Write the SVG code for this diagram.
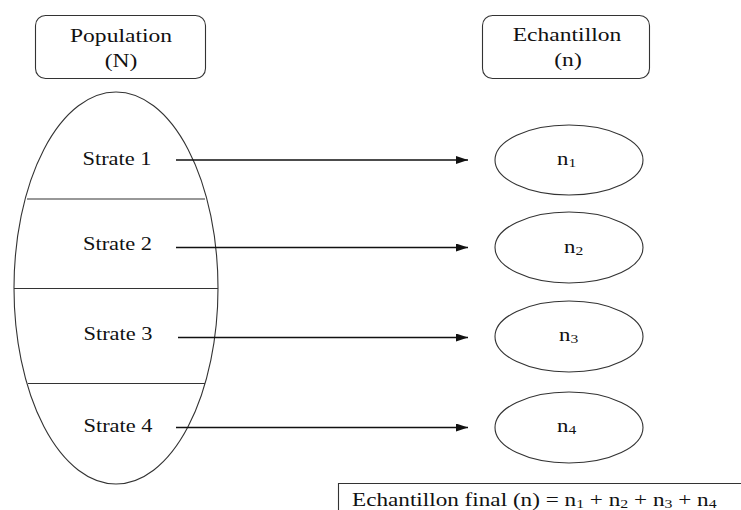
<svg xmlns="http://www.w3.org/2000/svg" width="741" height="510" viewBox="0 0 741 510">
<style>
.s{fill:none;stroke:#333;stroke-width:1.1}
.t{font-family:"Liberation Serif","Times New Roman",serif;font-size:19px;fill:#111}
.sub{font-size:13px}
.c{stroke:#111;stroke-width:1.4;fill:none}
</style>
<defs>
<marker id="ah" markerWidth="12" markerHeight="8" refX="12" refY="4" orient="auto" markerUnits="userSpaceOnUse">
<path d="M0,0 L12,4 L0,8 Z" fill="#111"/>
</marker>
</defs>
<rect width="741" height="510" fill="#fff"/>
<g id="population">
<rect class="s" x="35.5" y="15.5" width="170" height="63" rx="10"/>
<text class="t" text-anchor="middle" transform="translate(121,42) scale(1.24,1)">Population</text>
<text class="t" text-anchor="middle" transform="translate(121,67) scale(1.24,1)">(N)</text>
</g>
<g id="echantillon">
<rect class="s" x="482.5" y="15.5" width="167" height="63" rx="10"/>
<text class="t" text-anchor="middle" transform="translate(567,41) scale(1.24,1)">Echantillon</text>
<text class="t" text-anchor="middle" transform="translate(568,66) scale(1.24,1)">(n)</text>
</g>
<g id="strates">
<ellipse class="s" cx="116" cy="288" rx="102" ry="196"/>
<line class="s" x1="27" y1="199" x2="205" y2="199"/>
<line class="s" x1="14" y1="288.5" x2="218" y2="288.5"/>
<line class="s" x1="28" y1="383.5" x2="205" y2="383.5"/>
<text class="t" text-anchor="middle" transform="translate(117,165) scale(1.18,1)">Strate 1</text>
<text class="t" text-anchor="middle" transform="translate(117.5,250) scale(1.18,1)">Strate 2</text>
<text class="t" text-anchor="middle" transform="translate(118,340) scale(1.18,1)">Strate 3</text>
<text class="t" text-anchor="middle" transform="translate(118,432) scale(1.18,1)">Strate 4</text>
</g>
<g id="n1">
<ellipse class="s" cx="569" cy="160" rx="74" ry="35"/>
<text class="t" transform="translate(557,165) scale(1.2,1)">n<tspan class="sub" dy="2">1</tspan></text>
</g>
<g id="n2">
<ellipse class="s" cx="569" cy="247.5" rx="74" ry="35.5"/>
<text class="t" transform="translate(564,253) scale(1.2,1)">n<tspan class="sub" dy="2">2</tspan></text>
</g>
<g id="n3">
<ellipse class="s" cx="569" cy="336.5" rx="74" ry="35.5"/>
<text class="t" transform="translate(559,341) scale(1.2,1)">n<tspan class="sub" dy="2">3</tspan></text>
</g>
<g id="n4">
<ellipse class="s" cx="569" cy="427.5" rx="74" ry="35.5"/>
<text class="t" transform="translate(557,432) scale(1.2,1)">n<tspan class="sub" dy="2">4</tspan></text>
</g>
<g id="connectors">
<line class="c" x1="176" y1="160" x2="468" y2="160" marker-end="url(#ah)"/>
<line class="c" x1="176" y1="247.5" x2="468" y2="247.5" marker-end="url(#ah)"/>
<line class="c" x1="178" y1="337.5" x2="468" y2="337.5" marker-end="url(#ah)"/>
<line class="c" x1="176" y1="427.5" x2="468" y2="427.5" marker-end="url(#ah)"/>
</g>
<g id="final">
<path class="s" d="M742,483.5 H338.5 V511"/>
<text class="t" transform="translate(352,506) scale(1.22,1)">Echantillon final (n) = n<tspan class="sub" dy="2">1</tspan><tspan dy="-2"> + n</tspan><tspan class="sub" dy="2">2</tspan><tspan dy="-2"> + n</tspan><tspan class="sub" dy="2">3</tspan><tspan dy="-2"> + n</tspan><tspan class="sub" dy="2">4</tspan></text>
</g>
</svg>
